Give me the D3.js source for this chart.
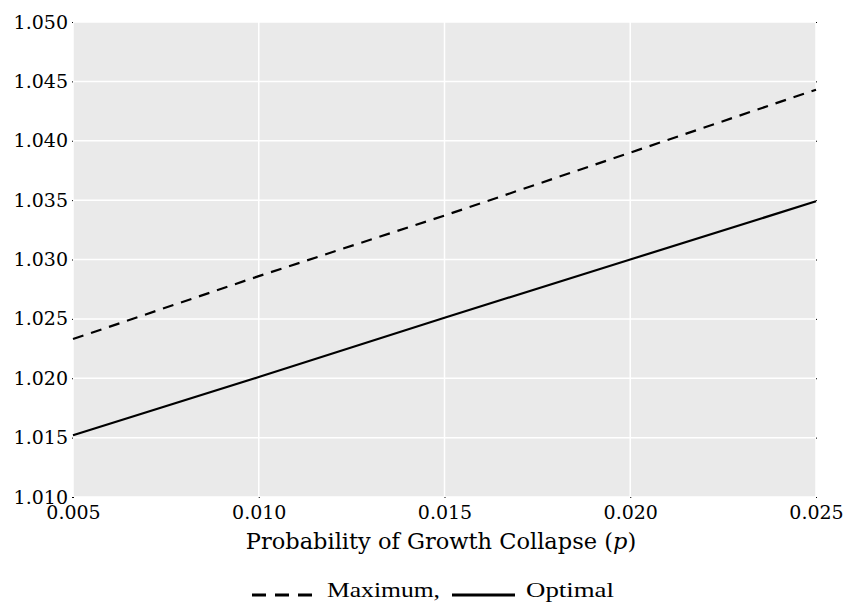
<!DOCTYPE html>
<html>
<head>
<meta charset="utf-8">
<script src="https://cdn.jsdelivr.net/npm/d3@7"></script>
<style>
  body { margin: 0; background: #fff; }
  svg text { font-family: "DejaVu Serif", serif; fill: #000; }
</style>
</head>
<body>
<div id="chart"></div>
<script>
var width = 852,
  height = 607;

var xTicks = [0.005, 0.010, 0.015, 0.020, 0.025];
var yTicks = [1.010, 1.015, 1.020, 1.025, 1.030, 1.035, 1.040, 1.045, 1.050];
var pValues = [0.005, 0.010, 0.015, 0.020, 0.025];
var maximumValues = [1.0233, 1.0286, 1.0337, 1.0390, 1.0443];
var optimalValues = [1.0152, 1.0201, 1.0251, 1.0300, 1.0349];

var margin = { left: 73, right: 36, top: 22, bottom: 110 };

var svg = d3
  .select("#chart")
  .append("svg")
  .attr("width", width)
  .attr("height", height);

var x = d3.scaleLinear().domain([0.005, 0.025]).range([margin.left, width - margin.right]);
var y = d3.scaleLinear().domain([1.010, 1.050]).range([height - margin.bottom, margin.top]);

// plot background
svg
  .append("rect")
  .attr("x", x(0.005))
  .attr("y", y(1.050))
  .attr("width", x(0.025) - x(0.005))
  .attr("height", y(1.010) - y(1.050))
  .attr("fill", "#eaeaea");

// grid
svg
  .selectAll(".hgrid")
  .data(yTicks)
  .enter()
  .append("line")
  .attr("x1", x(0.005))
  .attr("x2", x(0.025))
  .attr("y1", d => y(d))
  .attr("y2", d => y(d))
  .attr("stroke", "#fff")
  .attr("stroke-width", 1.5);

svg
  .selectAll(".vgrid")
  .data(xTicks)
  .enter()
  .append("line")
  .attr("x1", d => x(d))
  .attr("x2", d => x(d))
  .attr("y1", y(1.010))
  .attr("y2", y(1.050))
  .attr("stroke", "#fff")
  .attr("stroke-width", 1.5);

// axes: labels only, tiny ticks
var xAxis = d3.axisBottom(x).tickValues(xTicks).tickFormat(d3.format(".3f")).tickSize(1).tickPadding(7);
var yAxis = d3.axisLeft(y).tickValues(yTicks).tickFormat(d3.format(".3f")).tickSize(1).tickPadding(4);
var yAxisR = d3.axisRight(y).tickValues(yTicks).tickFormat("").tickSize(1);

var gx = svg.append("g").attr("transform", `translate(0,${y(1.010)})`).call(xAxis);
var gy = svg.append("g").attr("transform", `translate(${x(0.005)},0)`).call(yAxis);
var gr = svg.append("g").attr("transform", `translate(${x(0.025)},0)`).call(yAxisR);
[gx, gy, gr].forEach(function(g) {
  g.select(".domain").remove();
  g.selectAll(".tick line").attr("stroke", "#000");
  g.selectAll("text").style("font-family", "DejaVu Serif").style("font-size", "19px").attr("fill", "#000");
});
gx.selectAll("text").attr("dy", "0.72em");

// lines
var lineGen = d3
  .line()
  .x(d => x(d[0]))
  .y(d => y(d[1]));

svg
  .append("path")
  .datum(d3.zip(pValues, maximumValues))
  .attr("d", lineGen)
  .attr("fill", "none")
  .attr("stroke", "#000")
  .attr("stroke-width", 2.2)
  .attr("stroke-dasharray", "11,8");

svg
  .append("path")
  .datum(d3.zip(pValues, optimalValues))
  .attr("d", lineGen)
  .attr("fill", "none")
  .attr("stroke", "#000")
  .attr("stroke-width", 2.2);

// x label
var xl = svg
  .append("text")
  .attr("x", 441)
  .attr("y", 549)
  .attr("text-anchor", "middle")
  .style("font-size", "22.5px");
xl.append("tspan").text("Probability of Growth Collapse (");
xl.append("tspan").style("font-style", "italic").text("p");
xl.append("tspan").text(")");

// legend
var ly = 595;
svg
  .append("line")
  .attr("x1", 252)
  .attr("x2", 314)
  .attr("y1", ly)
  .attr("y2", ly)
  .attr("stroke", "#000")
  .attr("stroke-width", 3)
  .attr("stroke-dasharray", "14,9");
svg
  .append("text")
  .attr("x", 327)
  .attr("y", 597)
  .style("font-family", "Liberation Serif")
  .style("font-size", "21px")
  .attr("textLength", 113)
  .attr("lengthAdjust", "spacingAndGlyphs")
  .text("Maximum,");
svg
  .append("line")
  .attr("x1", 452)
  .attr("x2", 515)
  .attr("y1", ly)
  .attr("y2", ly)
  .attr("stroke", "#000")
  .attr("stroke-width", 3);
svg
  .append("text")
  .attr("x", 526)
  .attr("y", 597)
  .style("font-family", "Liberation Serif")
  .style("font-size", "21px")
  .attr("textLength", 88)
  .attr("lengthAdjust", "spacingAndGlyphs")
  .text("Optimal");
</script>
</body>
</html>
